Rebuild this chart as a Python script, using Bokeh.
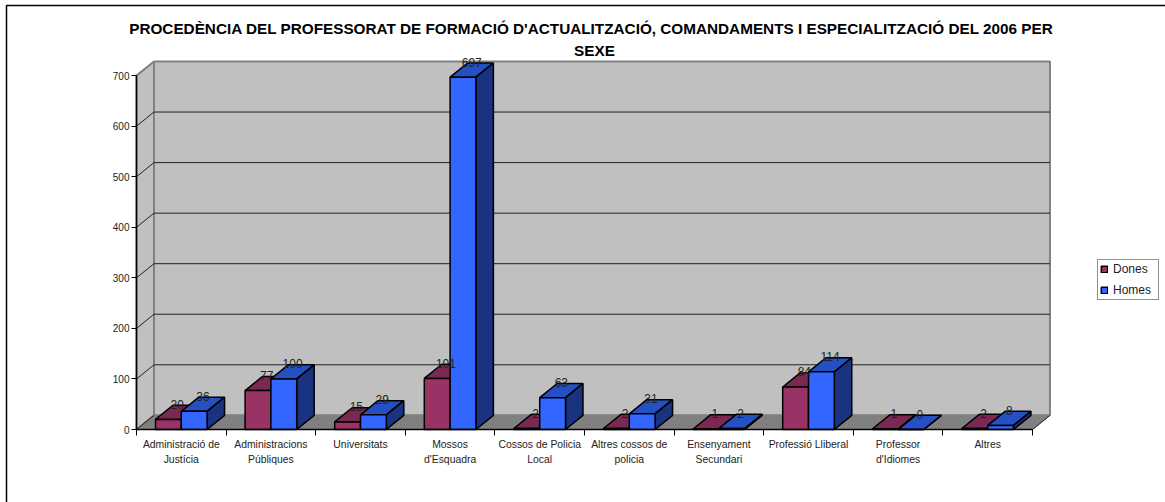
from bokeh.plotting import figure
from bokeh.embed import file_html
from bokeh.resources import INLINE
from bokeh.models import FixedTicker, Legend, LegendItem, BoxAnnotation, Range1d, LinearAxis, Label
from bokeh.core.properties import value

title_line1 = "PROCEDÈNCIA DEL PROFESSORAT DE FORMACIÓ D'ACTUALITZACIÓ, COMANDAMENTS I ESPECIALITZACIÓ DEL 2006 PER"
title_line2 = "SEXE"
categories = ["Administració de\nJustícia", "Administracions\nPúbliques", "Universitats", "Mossos\nd'Esquadra",
              "Cossos de Policia\nLocal", "Altres cossos de\npolicia", "Ensenyament\nSecundari", "Professió Lliberal",
              "Professor\nd'Idiomes", "Altres"]
dones = [20, 77, 15, 101, 2, 2, 1, 84, 1, 2]
homes = [36, 100, 29, 697, 63, 31, 2, 114, 0, 8]
y_ticks = [0, 100, 200, 300, 400, 500, 600, 700]

DX, DY = 0.195, 28.0      # depth of the 3D box, in data units
GAP, W = 0.212, 0.288     # bar inset and width inside a category
FONT = "Liberation Sans"
n = len(categories)

WIDTH, HEIGHT = 1165, 502
PX_X, PX_Y = 89.6, 0.5055   # pixels per category, pixels per value
X0, Y0 = 136, 429           # where the origin of the chart lies on the page

p = figure(width=WIDTH, height=HEIGHT, output_backend="svg", toolbar_location=None,
           x_range=Range1d(-X0 / PX_X, (WIDTH - X0) / PX_X),
           y_range=Range1d(-(HEIGHT - Y0) / PX_Y, Y0 / PX_Y),
           min_border=0, x_axis_type=None, y_axis_type=None, title=None)
p.outline_line_color = None
p.grid.visible = False

# walls and floor
wall = "#C0C0C0"
p.patch([0, DX, DX, 0], [0, DY, 700 + DY, 700], fill_color=wall, line_color="#808080", line_width=2)
p.patch([DX, n + DX, n + DX, DX], [DY, DY, 700 + DY, 700 + DY], fill_color=wall, line_color="#808080", line_width=2)
p.patch([0, n, n + DX, DX], [0, 0, DY, DY], fill_color="#808080", line_color="#808080", line_width=1)
p.line([n, n + DX], [0, DY], line_color="#222222", line_width=1)
g = [t for t in y_ticks if 0 < t < 700]
p.segment([DX] * len(g), [t + DY for t in g], [n + DX] * len(g), [t + DY for t in g], line_color="#222222", line_width=1)
p.segment([0] * (len(g) + 1), [0] + g, [DX] * (len(g) + 1), [DY] + [t + DY for t in g], line_color="#222222", line_width=1)

def bars(vals, offset, front, top, side):
    xl = [i + GAP + offset for i in range(n)]
    xr = [x + W for x in xl]
    p.patches([[a, b, b + DX, a + DX] for a, b in zip(xl, xr)],
              [[v, v, v + DY, v + DY] for v in vals],
              fill_color=top, line_color="black", line_width=1.5)
    p.patches([[b, b + DX, b + DX, b] for b in xr],
              [[0, DY, v + DY, v] for v in vals],
              fill_color=side, line_color="black", line_width=1.5)
    r = p.quad(left=xl, right=xr, bottom=0, top=vals, fill_color=front, line_color="black", line_width=1.5)
    return r, xl

r_d, xd = bars(dones, 0, "#993366", "#7A2952", "#5C1F3D")
r_h, xh = bars(homes, W, "#3366FF", "#2450C4", "#1A3380")

for vals, xl in ((dones, xd), (homes, xh)):
    p.text([x + W / 2 + DX / 2 for x in xl], [v + DY for v in vals], text=[str(v) for v in vals],
           text_font=value(FONT), text_font_size="12px", text_color="#222222",
           text_align="center", text_baseline="middle", y_offset=-1)

# axes
ya = LinearAxis(ticker=FixedTicker(ticks=y_ticks), bounds=(0, 700), fixed_location=0)
ya.axis_line_color = "black"; ya.axis_line_width = 1.5
ya.major_tick_line_color = "black"; ya.major_tick_in = 0; ya.major_tick_out = 5
ya.minor_tick_line_color = None
ya.major_label_text_font = FONT; ya.major_label_text_font_size = "10px"; ya.major_label_text_color = "#222222"
ya.major_label_standoff = 2
p.add_layout(ya, "left")

centers = [i + 0.5 for i in range(n)]
xa = LinearAxis(ticker=FixedTicker(ticks=centers, minor_ticks=list(range(n + 1))), bounds=(0, n), fixed_location=0)
xa.major_label_overrides = {c: t for c, t in zip(centers, categories)}
xa.axis_line_color = "black"; xa.axis_line_width = 1.5
xa.major_tick_line_color = None
xa.minor_tick_line_color = "black"; xa.minor_tick_in = 0; xa.minor_tick_out = 6
xa.major_label_text_font = FONT; xa.major_label_text_font_size = "10.4px"; xa.major_label_text_color = "#222222"
xa.major_label_standoff = 3
xa.major_label_text_line_height = 1.45
p.add_layout(xa, "below")

# title, one label per line
for line, sx, sy in ((title_line1, 591, 28), (title_line2, 594, 50)):
    p.add_layout(Label(x=sx, y=HEIGHT - sy, x_units="screen", y_units="screen", text=line,
                       text_font=FONT, text_font_size="15.3px", text_font_style="bold", text_color="black",
                       text_align="center", text_baseline="middle"))

# legend
legend = Legend(items=[LegendItem(label="Dones", renderers=[r_d]), LegendItem(label="Homes", renderers=[r_h])],
                location=(1097, HEIGHT - 300), orientation="vertical",
                glyph_width=8, glyph_height=8, label_text_font=FONT, label_text_font_size="12px",
                label_text_color="#222222", label_standoff=5, label_width=43, spacing=7, padding=2, margin=0,
                label_height=14, border_line_color="#222222", border_line_width=1, background_fill_alpha=1)
p.add_layout(legend, "center")

# outer chart border
p.add_layout(BoxAnnotation(left=6, right=3000, top=5, bottom=3000, left_units="canvas", right_units="canvas",
                           top_units="canvas", bottom_units="canvas", fill_color=None, fill_alpha=0,
                           line_color="black", line_alpha=1, line_width=1.5, level="overlay"))

open("out.html", "w").write(file_html(p, INLINE))
